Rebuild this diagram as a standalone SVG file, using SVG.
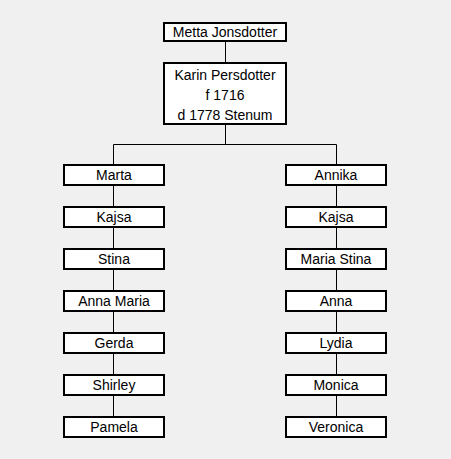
<svg xmlns="http://www.w3.org/2000/svg" width="451" height="459" viewBox="0 0 451 459">
<style>
.b{fill:#fff;stroke:#000;stroke-width:2}
.t{font-family:"Liberation Sans",Arial,sans-serif;font-size:14px;fill:#000;text-anchor:middle}
.c{stroke:#000;stroke-width:1;fill:none}
</style>
<rect width="451" height="459" fill="#f0f0f0"/>
<g id="connectors">
<path class="c" d="M225.5 42V62M225.5 125V144.5M113.5 144.5H336.5M113.5 144.5V164M336.5 144.5V164"/>
<path class="c" d="M113.5 186V206M113.5 228V248M113.5 270V290M113.5 312V332M113.5 354V374M113.5 396V416"/>
<path class="c" d="M336.5 186V206M336.5 228V248M336.5 270V290M336.5 312V332M336.5 354V374M336.5 396V416"/>
</g>
<g id="metta"><rect class="b" x="164" y="23" width="122" height="18"/><text class="t" x="225" y="37">Metta Jonsdotter</text></g>
<g id="karin"><rect class="b" x="164" y="63" width="122" height="61"/><text class="t" x="225" y="80">Karin Persdotter</text><text class="t" x="225" y="100">f 1716</text><text class="t" x="225" y="120">d 1778 Stenum</text></g>
<g id="marta"><rect class="b" x="64" y="165" width="100" height="20"/><text class="t" x="114" y="180">Marta</text></g>
<g id="kajsa1"><rect class="b" x="64" y="207" width="100" height="20"/><text class="t" x="114" y="222">Kajsa</text></g>
<g id="stina"><rect class="b" x="64" y="249" width="100" height="20"/><text class="t" x="114" y="264">Stina</text></g>
<g id="annamaria"><rect class="b" x="64" y="291" width="100" height="20"/><text class="t" x="114" y="306">Anna Maria</text></g>
<g id="gerda"><rect class="b" x="64" y="333" width="100" height="20"/><text class="t" x="114" y="348">Gerda</text></g>
<g id="shirley"><rect class="b" x="64" y="375" width="100" height="20"/><text class="t" x="114" y="390">Shirley</text></g>
<g id="pamela"><rect class="b" x="64" y="417" width="100" height="20"/><text class="t" x="114" y="432">Pamela</text></g>
<g id="annika"><rect class="b" x="286" y="165" width="100" height="20"/><text class="t" x="336" y="180">Annika</text></g>
<g id="kajsa2"><rect class="b" x="286" y="207" width="100" height="20"/><text class="t" x="336" y="222">Kajsa</text></g>
<g id="mariastina"><rect class="b" x="286" y="249" width="100" height="20"/><text class="t" x="336" y="264">Maria Stina</text></g>
<g id="anna"><rect class="b" x="286" y="291" width="100" height="20"/><text class="t" x="336" y="306">Anna</text></g>
<g id="lydia"><rect class="b" x="286" y="333" width="100" height="20"/><text class="t" x="336" y="348">Lydia</text></g>
<g id="monica"><rect class="b" x="286" y="375" width="100" height="20"/><text class="t" x="336" y="390">Monica</text></g>
<g id="veronica"><rect class="b" x="286" y="417" width="100" height="20"/><text class="t" x="336" y="432">Veronica</text></g>
</svg>
